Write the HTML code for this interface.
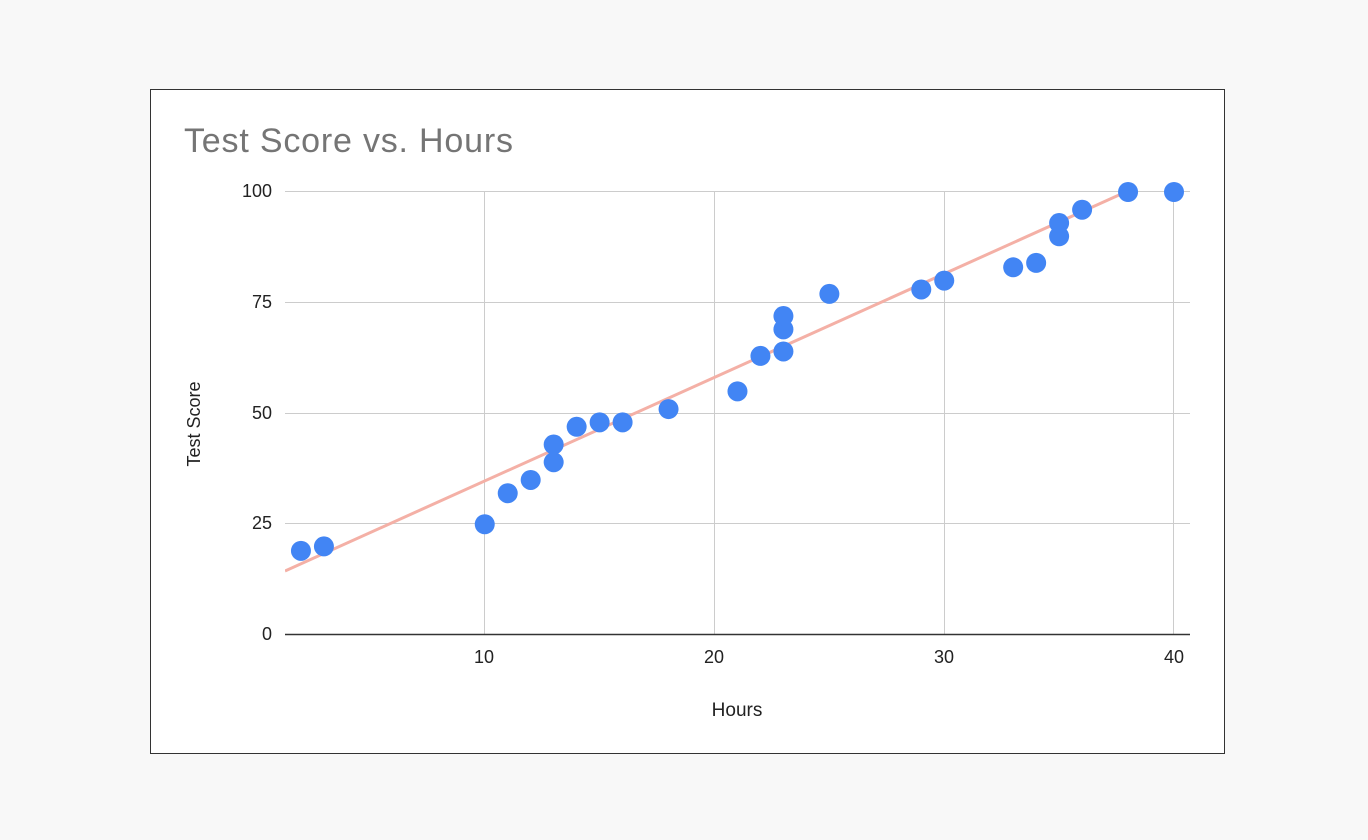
<!DOCTYPE html>
<html><head><meta charset="utf-8"><style>
html,body{margin:0;padding:0;background:#f8f8f8;}
svg{display:block;font-family:"Liberation Sans",Arial,sans-serif;}
</style></head><body>
<svg width="1368" height="840" viewBox="0 0 1368 840">
<rect x="150.5" y="89.5" width="1074" height="664" fill="#fff" stroke="#333" stroke-width="1"/>
<text x="184" y="152" font-size="34" textLength="329" fill="#757575">Test Score vs. Hours</text>
<g stroke="#cccccc" stroke-width="1">
<line x1="285" y1="191.5" x2="1190" y2="191.5"/>
<line x1="285" y1="302.5" x2="1190" y2="302.5"/>
<line x1="285" y1="413.5" x2="1190" y2="413.5"/>
<line x1="285" y1="523.5" x2="1190" y2="523.5"/>
<line x1="484.5" y1="191" x2="484.5" y2="634"/>
<line x1="714.5" y1="191" x2="714.5" y2="634"/>
<line x1="944.5" y1="191" x2="944.5" y2="634"/>
<line x1="1173.5" y1="191" x2="1173.5" y2="634"/>
</g>
<line x1="285" y1="634.5" x2="1190" y2="634.5" stroke="#333" stroke-width="1.5"/>
<g font-size="18" fill="#222" text-anchor="end">
<text x="272" y="197">100</text><text x="272" y="308">75</text><text x="272" y="419">50</text><text x="272" y="529">25</text><text x="272" y="640">0</text>
</g>
<g font-size="18" fill="#222" text-anchor="middle">
<text x="484" y="663">10</text><text x="714" y="663">20</text><text x="944" y="663">30</text><text x="1174" y="663">40</text>
<text x="737" y="716" font-size="19">Hours</text>
</g>
<text transform="translate(200,424) rotate(-90)" font-size="18" fill="#222" text-anchor="middle">Test Score</text>
<clipPath id="c"><rect x="285" y="191" width="905" height="443"/></clipPath>
<line x1="285" y1="571" x2="1190" y2="163" stroke="#f4b0a6" stroke-width="3" clip-path="url(#c)"/>
<g fill="#4285f4" id="pts"></g>
</svg>
<script>
var d=[[2,19],[3,20],[10,25],[11,32],[12,35],[13,39],[13,43],[14,47],[15,48],[16,48],[18,51],[21,55],[22,63],[23,64],[23,69],[23,72],[25,77],[29,78],[30,80],[33,83],[34,84],[35,90],[35,93],[36,96],[38,100],[40,100]];
var g=document.getElementById('pts'),s='';
d.forEach(function(p){s+='<circle cx="'+(255+p[0]*22.975)+'" cy="'+(635-p[1]*4.43)+'" r="10"/>';});
g.innerHTML=s;
</script>
</body></html>
